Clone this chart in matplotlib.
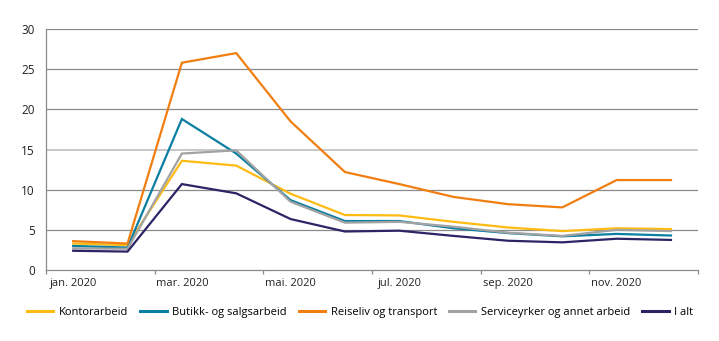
import matplotlib
matplotlib.use("Agg")
import matplotlib.pyplot as plt
from matplotlib.lines import Line2D

plt.rcParams['font.family'] = ['Open Sans', 'DejaVu Sans']

months = ["jan. 2020", "feb. 2020", "mar. 2020", "apr. 2020", "mai. 2020", "jun. 2020",
          "jul. 2020", "aug. 2020", "sep. 2020", "okt. 2020", "nov. 2020", "des. 2020"]
kontor = [3.3, 3.1, 13.6, 13.0, 9.5, 6.85, 6.8, 6.0, 5.3, 4.85, 5.2, 5.1]
butikk = [3.0, 2.8, 18.8, 14.5, 8.7, 6.1, 6.1, 5.2, 4.6, 4.2, 4.5, 4.3]
reiseliv = [3.6, 3.3, 25.8, 27.0, 18.5, 12.2, 10.7, 9.1, 8.2, 7.8, 11.2, 11.2]
service = [2.7, 2.65, 14.5, 14.9, 8.5, 5.9, 6.0, 5.4, 4.65, 4.25, 5.0, 4.85]
ialt = [2.4, 2.3, 10.7, 9.55, 6.35, 4.8, 4.9, 4.25, 3.65, 3.45, 3.9, 3.75]

series = [
    ("Kontorarbeid", kontor, "#fdbb13"),
    ("Butikk- og salgsarbeid", butikk, "#0a7fa2"),
    ("Reiseliv og transport", reiseliv, "#f07e10"),
    ("Serviceyrker og annet arbeid", service, "#a3a3a3"),
    ("I alt", ialt, "#2b2566"),
]
yticks = [0, 5, 10, 15, 20, 25, 30]

fig = plt.figure(figsize=(7.19, 3.41), dpi=100)
ax = fig.add_axes([0.064, 0.208, 0.907, 0.707])

for y in yticks[1:]:
    col = "#c4c4c4" if y == 15 else "#8a8a8a"
    ax.axhline(y, color=col, lw=0.9 if y != 15 else 1.3, zorder=0)

x = list(range(len(months)))
handles = []
for name, vals, col in series:
    ax.plot(x, vals, color=col, lw=1.6, solid_joinstyle='miter', zorder=3)
    handles.append(Line2D([0], [0], color=col, lw=2.2, label=name))

ax.set_xlim(-0.5, 11.5)
ax.set_ylim(0, 30)
ax.set_yticks(yticks)
ax.set_yticklabels([str(v) for v in yticks], fontsize=8.5, color="#222222")
ax.tick_params(axis='y', length=0, pad=8)

ax.set_xticks([-0.5 + 2 * i for i in range(7)])
ax.set_xticklabels([])
ax.set_xticks(x[::2], minor=True)
ax.set_xticklabels(months[::2], minor=True, fontsize=8, color="#222222")
ax.tick_params(axis='x', which='major', length=3, color="#8a8a8a", width=0.9)
ax.tick_params(axis='x', which='minor', length=0, pad=6)

for s in ["top", "right"]:
    ax.spines[s].set_visible(False)
for s in ["left", "bottom"]:
    ax.spines[s].set_color("#8a8a8a")
    ax.spines[s].set_linewidth(0.9)

fig.legend(handles=handles, loc="center", bbox_to_anchor=(0.501, 0.085), ncol=5,
           frameon=False, handlelength=2.35, handletextpad=0.5, columnspacing=1.1,
           borderpad=0.0, fontsize=8)

fig.savefig("out.png", dpi=100)
